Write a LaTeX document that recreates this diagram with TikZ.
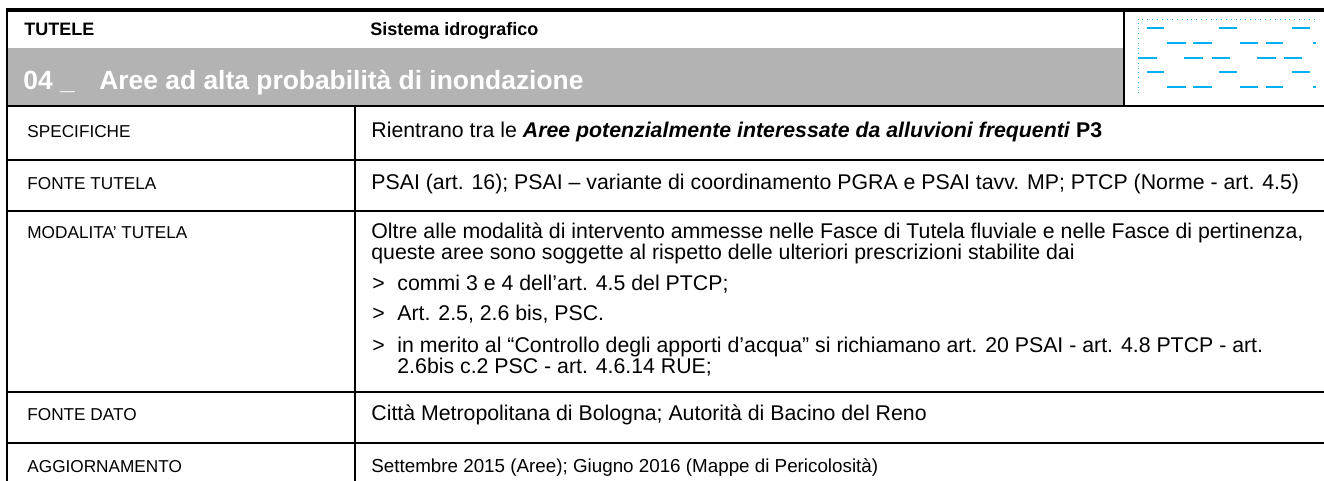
\documentclass[tikz,border=0pt]{standalone}
\usepackage{fontspec}
\setmainfont{Liberation Sans}
\definecolor{band}{RGB}{179,179,179}
\definecolor{aqua}{RGB}{0,176,240}
\begin{document}
\begin{tikzpicture}[x=0.5pt,y=-0.5pt,
  thickrule/.style={line width=1.6pt},
  rowrule/.style={line width=1.3pt},
  colrule/.style={line width=1.1pt},
  dashmark/.style={aqua,line width=1.05pt},
  lab/.style={anchor=base west,inner sep=0pt,font=\fontsize{8.6}{10}\selectfont},
  txt/.style={anchor=base west,inner sep=0pt,font=\fontsize{10.65}{12}\selectfont},
  smalltxt/.style={anchor=base west,inner sep=0pt,font=\fontsize{9.4}{11}\selectfont},
  hdr/.style={anchor=base west,inner sep=0pt,font=\fontsize{9}{11}\selectfont\bfseries},
  ttl/.style={anchor=base west,inner sep=0pt,text=white,font=\fontsize{13.2}{15}\selectfont\bfseries}]
\useasboundingbox (0,0) rectangle (1324,481);
% grey title band
\fill[band] (7,48) rectangle (1124,106);
% rules
\draw[thickrule] (6,10) -- (1324,10);
\draw[rowrule] (7,106) -- (1324,106);
\draw[rowrule] (7,160) -- (1324,160);
\draw[rowrule] (7,211) -- (1324,211);
\draw[rowrule] (7,392) -- (1324,392);
\draw[rowrule] (7,443) -- (1324,443);
\draw[colrule] (7,9) -- (7,481);
\draw[colrule] (355,106) -- (355,481);
\draw[colrule] (1124,10) -- (1124,106);
% icon
\draw[aqua,dotted,line width=0.45pt] (1138,93) -- (1138,19) -- (1316,19);
\foreach \y in {28,72}{
  \foreach \a/\b in {1147/1164,1219/1237,1292/1310}
    \draw[dashmark] (\a,\y) -- (\b,\y);}
\foreach \y in {43,87}{
  \foreach \a/\b in {1167/1186,1193/1212,1240/1258,1266/1283,1313/1316}
    \draw[dashmark] (\a,\y) -- (\b,\y);}
\foreach \a/\b in {1138/1157,1184/1203,1212/1230,1257/1276,1284/1302}
  \draw[dashmark] (\a,58) -- (\b,58);
% header
\node[hdr] (tutele) at (24,36) {TUTELE};
\node[hdr] (sistema) at (370,36) {Sistema idrografico};
\node[ttl] (num) at (23,90) {04 \_};
\node[ttl] (title) at (99,90) {Aree ad alta probabilità di inondazione};
% left labels
\node[lab] (l1) at (27,138) {SPECIFICHE};
\node[lab] (l2) at (27,190) {FONTE TUTELA};
\node[lab] (l3) at (27,238) {MODALITA’ TUTELA};
\node[lab] (l4) at (27,420) {FONTE DATO};
\node[lab] (l5) at (27,472) {AGGIORNAMENTO};
% right texts
\node[txt] (r1) at (371,138) {Rientrano tra le \textbf{\textit{Aree potenzialmente interessate da alluvioni frequenti}} \textbf{P3}};
\node[txt] (r2) at (371,190) {PSAI (art. 16); PSAI – variante di coordinamento PGRA e PSAI tavv. MP; PTCP (Norme - art. 4.5)};
\node[txt] (r3a) at (371,238) {Oltre alle modalità di intervento ammesse nelle Fasce di Tutela fluviale e nelle Fasce di pertinenza,};
\node[txt] (r3b) at (371,259) {queste aree sono soggette al rispetto delle ulteriori prescrizioni stabilite dai};
\node[txt] (g1) at (372,290) {>};
\node[txt] (b1) at (397,290) {commi 3 e 4 dell’art. 4.5 del PTCP;};
\node[txt] (g2) at (372,321) {>};
\node[txt] (b2) at (397,321) {Art. 2.5, 2.6 bis, PSC.};
\node[txt] (g3) at (372,352) {>};
\node[txt] (b3a) at (397,352) {in merito al “Controllo degli apporti d’acqua” si richiamano art. 20 PSAI - art. 4.8 PTCP - art.};
\node[txt] (b3b) at (397,373) {2.6bis c.2 PSC - art. 4.6.14 RUE;};
\node[txt] (r4) at (371,420) {Città Metropolitana di Bologna; Autorità di Bacino del Reno};
\node[smalltxt] (r5) at (371,472) {Settembre 2015 (Aree); Giugno 2016 (Mappe di Pericolosità)};
\end{tikzpicture}
\end{document}
